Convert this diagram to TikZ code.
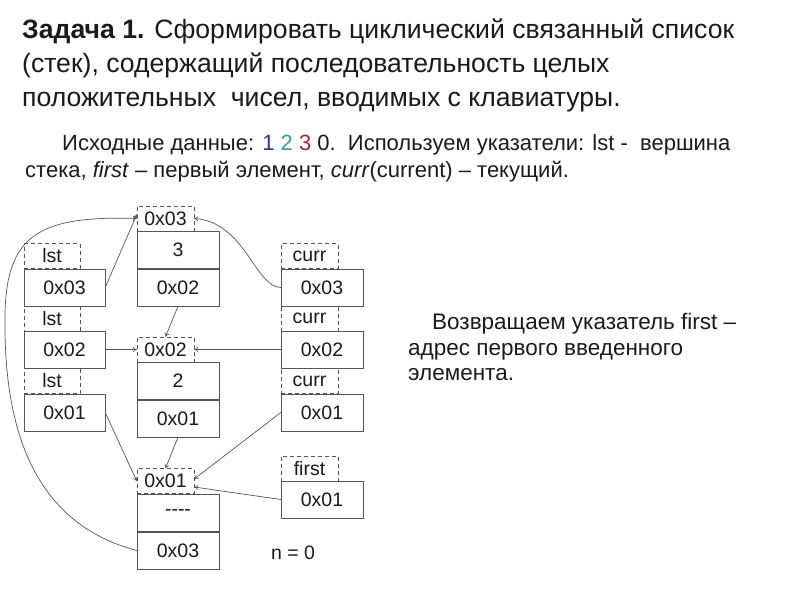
\documentclass[tikz,border=0pt]{standalone}
\usepackage{fontspec}
\setmainfont{Liberation Sans}
\usetikzlibrary{arrows.meta,calc}
\definecolor{lc}{HTML}{555555}
\definecolor{tc}{HTML}{1A1A1A}
\definecolor{cone}{HTML}{1F3C88}
\definecolor{ctwo}{HTML}{2E9EA4}
\definecolor{cthree}{HTML}{A52A2A}
\begin{document}
\begin{tikzpicture}[x=1pt,y=-1pt,
  lbl/.style={draw=lc, dash pattern=on 4pt off 3pt, fill=white, minimum width=57pt, minimum height=25pt, inner sep=0pt, text=tc, font=\fontsize{19.5}{19.5}\selectfont},
  cell/.style={draw=lc, fill=white, minimum width=82pt, minimum height=37pt, inner sep=0pt, text=tc, font=\fontsize{19.5}{19.5}\selectfont},
  ptr/.style={draw=lc, line width=0.7pt, -{To[length=4pt,width=5pt]}},
  ttl/.style={anchor=base west, inner sep=0pt, text=tc, font=\fontsize{26.6}{26.6}\selectfont},
  sub/.style={anchor=base west, inner sep=0pt, text=tc, font=\fontsize{22}{22}\selectfont},
  rtx/.style={anchor=base west, inner sep=0pt, text=tc, font=\fontsize{22.5}{22.5}\selectfont}]
\useasboundingbox (0,0) rectangle (800,600);

% title
\node[ttl] (t1) at (22,38) {\textbf{Задача 1.} Сформировать циклический связанный список};
\node[ttl] (t2) at (22,72) {(стек), содержащий последовательность целых};
\node[ttl] (t3) at (22,106) {положительных\ \ чисел, вводимых с клавиатуры.};

% subtitle
\node[sub] (s1) at (62,150) {Исходные данные: \textcolor{cone}{1} \textcolor{ctwo}{2} \textcolor{cthree}{3} 0.\ \ Используем указатели: lst -\ \ вершина};
\node[sub] (s2) at (25,177) {стека, \textit{first} – первый элемент, \textit{curr}(current) – текущий.};

% right text
\node[rtx] (r1) at (432,329) {Возвращаем указатель first –};
\node[rtx] (r2) at (408,355) {адрес первого введенного};
\node[rtx] (r3) at (408,380) {элемента.};

% left column (lst)
\node[lbl, minimum width=56pt] (lstL1) at (52,256) {lst};
\node[lbl, minimum width=56pt] (lstL2) at (52,318.5) {lst};
\node[lbl, minimum width=56pt] (lstL3) at (52,381) {lst};
\node[cell, minimum width=81pt] (lstB1) at (64.5,287.5) {0x03};
\node[cell, minimum width=81pt] (lstB2) at (64.5,349.5) {0x02};
\node[cell, minimum width=81pt] (lstB3) at (64.5,412.5) {0x01};

% middle column (elements)
\node[lbl] (aL) at (165.5,218.5) {0x03};
\node[cell] (a1) at (178,250) {3};
\node[cell] (a2) at (178,287.5) {0x02};
\node[lbl] (bL) at (165.5,349.5) {0x02};
\node[cell] (b1) at (178,381) {2};
\node[cell] (b2) at (178,418.5) {0x01};
\node[lbl] (cL) at (165.5,481) {0x01};
\node[cell] (c1) at (178,512.5) {-{}-{}-{}-};
\node[cell] (c2) at (178,550.5) {0x03};

% right column (curr, first)
\node[lbl] (crL1) at (309.5,256) {curr};
\node[lbl] (crL2) at (309.5,318.5) {curr};
\node[lbl] (crL3) at (309.5,381) {curr};
\node[lbl] (fL) at (309.5,468.5) {first};
\node[cell] (crB1) at (322,287.5) {0x03};
\node[cell] (crB2) at (322,349.5) {0x02};
\node[cell] (crB3) at (322,412.5) {0x01};
\node[cell] (fB) at (322,499.5) {0x01};

\node[inner sep=0pt, text=tc, font=\fontsize{19.5}{19.5}\selectfont] (n0) at (293,553) {n = 0};

% connectors
\draw[ptr] (lstB1.east) -- ($(aL.west)+(0,-4)$);
\draw[ptr] (c2.west) .. controls (40,525) and (6,440) .. (5,330)
           .. controls (3,240) and (30,215) .. (aL.west);
\draw[ptr] (crB1.west) .. controls (255,287) and (245,222) .. (aL.east);
\draw[ptr] (a2.south) -- (bL.north);
\draw[ptr] (lstB2.east) -- (bL.west);
\draw[ptr] (crB2.west) -- (bL.east);
\draw[ptr] (lstB3.east) -- (cL.west);
\draw[ptr] (b2.south) -- (cL.north);
\draw[ptr] (crB3.west) -- ($(cL.east)+(0,-2)$);
\draw[ptr] (fB.west) -- ($(cL.east)+(0,6)$);
\end{tikzpicture}
\end{document}
